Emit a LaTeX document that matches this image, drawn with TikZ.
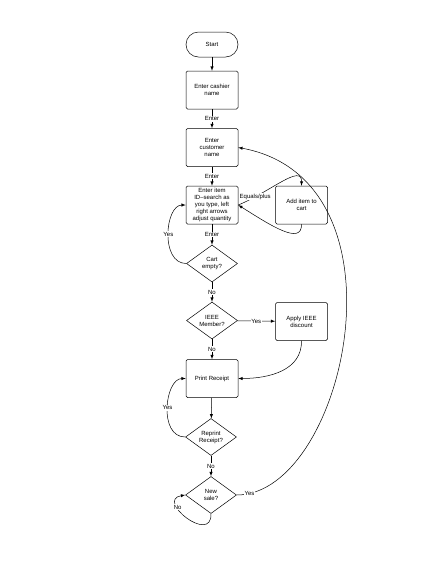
\documentclass[tikz,border=0pt]{standalone}
\usepackage{fontspec}
\setmainfont{Liberation Sans}
\usetikzlibrary{arrows,shapes.geometric}
\tikzset{>=latex}
\tikzset{
	terminal/.style={draw, rounded corners=12.5pt, minimum width=52pt, minimum height=25pt},
	box/.style={draw, rounded corners=1.5pt, minimum width=52pt, minimum height=38pt, align=center, inner sep=0.5pt},
	decision/.style={draw, diamond, minimum width=51pt, minimum height=37pt, align=center, inner sep=0pt},
	lbl/.style={fill=white, inner sep=0.8pt}
}

\begin{document}
\begin{tikzpicture}[x=1pt, y=-1pt, font=\fontsize{6}{7}\selectfont, line width=0.5pt]
		\useasboundingbox[fill=white] (0,0) rectangle (438,566);
		\node[terminal] (start) at (212,44.5) {Start};
		\node[box] (cashier) at (212,90) {Enter cashier\\name};
		\node[box] (customer) at (212,147.5) {Enter\\customer\\name};
		\node[box] (item) at (212,205) {Enter item\\ID--search as\\you type, left\\right arrows\\adjust quantity};
		\node[box] (addcart) at (301.5,205) {Add item to\\cart};
		\node[decision] (cart) at (212,263.5) {Cart\\empty?};
		\node[decision] (ieee) at (212,320.5) {IEEE\\Member?};
		\node[box] (discount) at (301.5,321.5) {Apply IEEE\\discount};
		\node[box] (receipt) at (212,378.5) {Print Receipt};
		\node[decision] (reprint) at (211,437) {Reprint\\Receipt?};
		\node[decision] (newsale) at (211,495) {New\\sale?};
		\draw[->] (start) -- (cashier);
		\draw[->] (cashier) -- node[lbl] {Enter} (customer);
		\draw[->] (customer) -- node[lbl] {Enter} (item);
		\draw[->] (item) -- node[lbl] {Enter} (cart);
		\draw[->] (cart) -- node[lbl] {No} (ieee);
		\draw[->] (ieee) -- node[lbl] {Yes} (discount);
		\draw[->] (ieee) -- node[lbl] {No} (receipt);
		\draw[->] (receipt) -- (reprint);
		\draw[->] (reprint) -- node[lbl] {No} (newsale);
		\draw[->] (item.east) .. controls (270,192) and (302,163) .. node[lbl, pos=0.18] {Equals/plus} (addcart.north);
		\draw[->] (addcart.south) .. controls (302,246) and (270,225) .. (item.east);
		\draw[->] (cart.west) .. controls (160,263.5) and (165,205) .. node[lbl] {Yes} (item.west);
		\draw[->] (discount.south) .. controls (302,370) and (270,378.5) .. (receipt.east);
		\draw[->] (reprint.west) .. controls (158,437) and (165,378.5) .. node[lbl] {Yes} (receipt.west);
		\draw[->] (newsale.south) .. controls (212,545) and (155,500) .. node[lbl, pos=0.7] {No} (newsale.west);
		\draw[->] (newsale.east) .. controls (345,495) and (415,180) .. node[lbl, pos=0.04] {Yes} (customer.east);
	\end{tikzpicture}
\end{document}
